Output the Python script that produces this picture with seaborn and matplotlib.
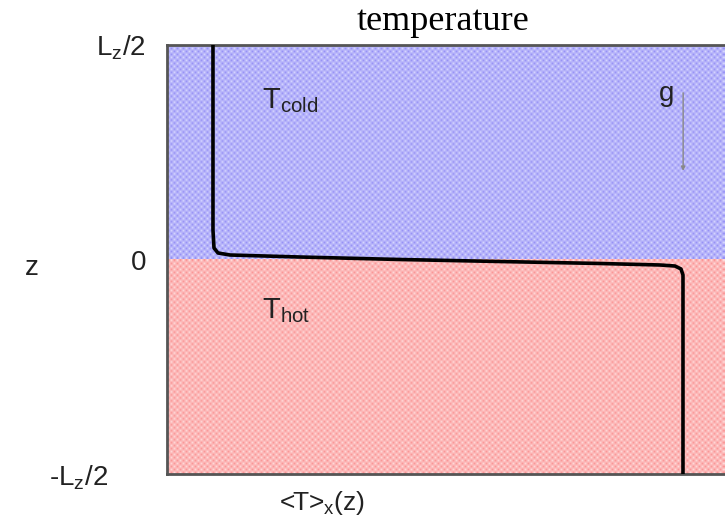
import numpy as np
import matplotlib
matplotlib.use("Agg")
import matplotlib.pyplot as plt
import matplotlib.transforms as mtransforms
import seaborn as sns

# Horizontally averaged temperature profile <T>_x(z)
z_profile = [0.5, 0.0688, 0.0268, 0.0152, 0.0105, 0.0058, 0.0, -0.0047,
             -0.0093, -0.0128, -0.0152, -0.0221, -0.0361, -0.5]
T_profile = [0.0824, 0.0824, 0.0842, 0.0914, 0.1129, 0.2384, 0.4176, 0.5968,
             0.776, 0.8835, 0.9104, 0.9211, 0.9247, 0.9247]

z_ticks = [0.5, 0.0, -0.5]
z_tick_labels = [r"L$_z$/2", "0", r"-L$_z$/2"]

sns.set_theme(style="white")
plt.rcParams["font.family"] = ["Liberation Sans", "DejaVu Sans"]
plt.rcParams["mathtext.default"] = "regular"

fig = plt.figure(figsize=(7.25, 5.26), dpi=100)
W, H = 725, 526
ax = fig.add_axes([167 / W, 1 - 474 / H, 1 - 167 / W, (474 - 45) / H])


def checker(dark, light, nx, ny):
    img = np.empty((ny, nx, 3))
    mask = (np.add.outer(np.arange(ny), np.arange(nx)) % 2) == 0
    img[mask] = np.array(dark) / 255
    img[~mask] = np.array(light) / 255
    return img


# Cold (upper) and hot (lower) layers, drawn as checkered fills
ax.imshow(checker((150, 145, 245), (215, 215, 255), 186, 72),
          extent=(0, 1, 0, 0.5), aspect="auto", interpolation="bilinear", zorder=0)
ax.imshow(checker((250, 150, 150), (255, 218, 218), 186, 72),
          extent=(0, 1, -0.5, 0), aspect="auto", interpolation="bilinear", zorder=0)

sns.lineplot(x=T_profile, y=z_profile, sort=False, estimator=None,
             color="black", linewidth=2.6, ax=ax, zorder=3)

ax.set_xlim(0, 1)
ax.set_ylim(-0.5, 0.5)
ax.set_xticks([])
ax.set_yticks(z_ticks)
ax.set_yticklabels(z_tick_labels, fontsize=20, color="#222222")
ax.tick_params(axis="y", length=0, pad=15)
# bottom label sits further left
lbl = ax.get_yticklabels()[2]
lbl.set_transform(lbl.get_transform() +
                  mtransforms.ScaledTranslation(-38 / 100, 0, fig.dpi_scale_trans))

for side in ("left", "bottom", "top"):
    ax.spines[side].set_color("#555555")
    ax.spines[side].set_linewidth(2)
ax.spines["right"].set_visible(False)

ax.set_xlabel("")
ax.set_ylabel("")

ax.text(0.17, 0.37, r"T$_{cold}$", fontsize=21, color="#222222",
        ha="left", va="center")
ax.text(0.17, -0.118, r"T$_{hot}$", fontsize=21, color="#222222",
        ha="left", va="center")
ax.text(0.895, 0.385, "g", fontsize=20, color="#222222", ha="center", va="center")
ax.annotate("", xy=(0.925, 0.2), xytext=(0.925, 0.395),
            arrowprops=dict(arrowstyle="-|>", color="#888888", lw=1,
                            mutation_scale=6))

fig.text(32 / W, 1 - 268 / H, "z", fontsize=20, color="#222222",
         ha="center", va="center")
fig.text(322 / W, 1 - 503 / H, r"<T>$_x$(z)", fontsize=19, color="#222222",
         ha="center", va="center")
fig.text(443 / W, 1 - 22 / H, "temperature", fontsize=26, color="black",
         family=["Liberation Serif", "DejaVu Serif"], ha="center", va="center")

fig.savefig("out.png", dpi=100)
